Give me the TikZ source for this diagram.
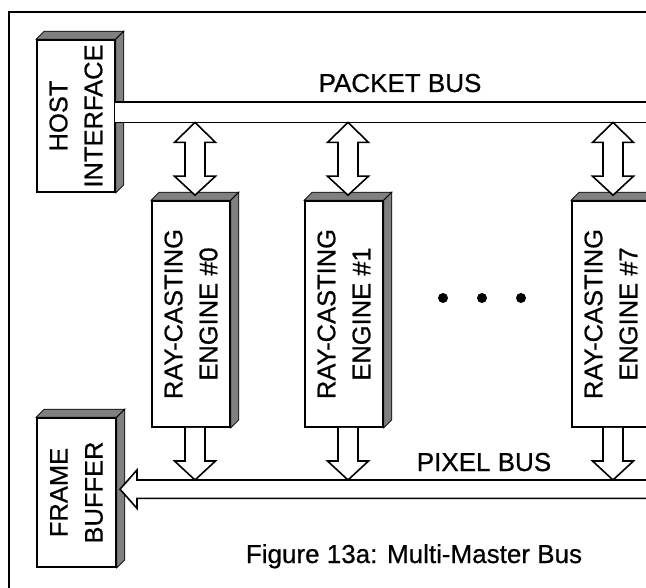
\documentclass[tikz,border=0pt]{standalone}
\usepackage{fontspec}
\setmainfont{Liberation Sans}[FakeBold=0.6]
\usetikzlibrary{calc}
\tikzset{
  box/.style={draw, line width=1.6pt, fill=white, minimum width=78pt, inner sep=0pt},
  shade3d/.style={draw, line width=0.8pt, fill=black!50, line join=miter},
  arr/.style={draw, line width=1.6pt, fill=white, line join=miter},
  bus/.style={line width=1.6pt},
  lbl/.style={font=\fontsize{26}{35}\selectfont, inner sep=0pt},
  boxtext/.style={font=\fontsize{25.5}{35}\selectfont, rotate=90, align=center, inner sep=0pt},
  dot/.style={circle, fill, inner sep=0pt, minimum size=10pt},
}
\newcommand{\boxdepth}[1]{%
  \filldraw[shade3d] (#1.north west) -- ++(8,-8) -- ($(#1.north east)+(8,-8)$) -- (#1.north east) -- cycle;
  \filldraw[shade3d] (#1.north east) -- ++(8,-8) -- ($(#1.south east)+(8,-8)$) -- (#1.south east) -- cycle;}
\newcommand{\dblarr}[2]{%
  \draw[arr] let \p1=(#1), \p2=(#2) in
    (\x1,\y1) -- (\x1-20.5pt,\y1-20pt) -- (\x1-10pt,\y1-20pt) -- (\x1-10pt,\y2+19pt)
    -- (\x1-20.5pt,\y2+19pt) -- (\x1,\y2) -- (\x1+20.5pt,\y2+19pt) -- (\x1+10pt,\y2+19pt)
    -- (\x1+10pt,\y1-20pt) -- (\x1+20.5pt,\y1-20pt) -- cycle;}
\newcommand{\downarr}[2]{%
  \draw[arr] let \p1=(#1), \p2=(#2) in
    (\x1-10pt,\y1) -- (\x1-10pt,\y2+19pt) -- (\x1-20.5pt,\y2+19pt) -- (\x1,\y2)
    -- (\x1+20.5pt,\y2+19pt) -- (\x1+10pt,\y2+19pt) -- (\x1+10pt,\y1);}
\begin{document}
\begin{tikzpicture}[x=1pt,y=-1pt]
\useasboundingbox (0,0) rectangle (646,588);
\clip (0,0) rectangle (646,588);
\fill[white] (0,0) rectangle (646,588);
% frame
\draw[line width=1.3pt] (9,600) -- (9,12) -- (660,12);
% host interface
\node[box, minimum height=152pt] (host) at (76,116) {};
\boxdepth{host}
\node[boxtext] (hostt) at (host.center) {HOST\\INTERFACE};
% frame buffer
\node[box, minimum width=79pt, minimum height=149pt] (fb) at (76.5,492.5) {};
\boxdepth{fb}
\node[boxtext] (fbt) at (fb.center) {FRAME\\BUFFER};
% packet bus
\node[anchor=north west, minimum width=545pt, minimum height=20pt, inner sep=0pt, fill=white] (pbus) at (115,102) {};
\draw[bus] (pbus.north west) -- (pbus.north east) (pbus.south west) -- (pbus.south east);
\node[lbl, anchor=base] (pblbl) at (400,92) {PACKET BUS};
% engines
\node[box, minimum height=226pt] (e0) at (191,314) {};
\boxdepth{e0}
\node[boxtext] (e0t) at (e0.center) {RAY-CASTING\\ENGINE \#0};
\node[box, minimum height=226pt] (e1) at (344,314) {};
\boxdepth{e1}
\node[boxtext] (e1t) at (e1.center) {RAY-CASTING\\ENGINE \#1};
\node[box, minimum height=226pt] (e7) at (611,314) {};
\boxdepth{e7}
\node[boxtext] (e7t) at (e7.center) {RAY-CASTING\\ENGINE \#7};
\coordinate (c0) at ($(e0.center)+(4,0)$);
\coordinate (c1) at ($(e1.center)+(4,0)$);
\coordinate (c7) at ($(e7.center)+(2,0)$);
% dots
\node[dot] (d1) at (443,298) {};
\node[dot] (d2) at (482,298) {};
\node[dot] (d3) at (521,298) {};
% pixel bus
\node[anchor=north west, minimum width=523pt, minimum height=18pt, inner sep=0pt] (xbus) at (137,480) {};
\draw[arr] (xbus.north east) -- (xbus.north west) -- ++(0,-10) -- ($(xbus.west)+(-17,0)$)
  -- ($(xbus.south west)+(0,10)$) -- (xbus.south west) -- (xbus.south east);
\node[lbl, anchor=base] (xblbl) at (484,471) {PIXEL BUS};
% packet bus arrows
\dblarr{c0 |- pbus.south}{$(c0 |- e0.north)+(0,-5)$}
\dblarr{c1 |- pbus.south}{$(c1 |- e1.north)+(0,-5)$}
\dblarr{c7 |- pbus.south}{$(c7 |- e7.north)+(0,-5)$}
% pixel bus arrows
\downarr{c0 |- e0.south}{c0 |- xbus.north}
\downarr{c1 |- e1.south}{c1 |- xbus.north}
\downarr{c7 |- e7.south}{c7 |- xbus.north}
% caption
\node[lbl, anchor=base] (cap) at (414,563) {Figure 13a: Multi-Master Bus};
\end{tikzpicture}
\end{document}
